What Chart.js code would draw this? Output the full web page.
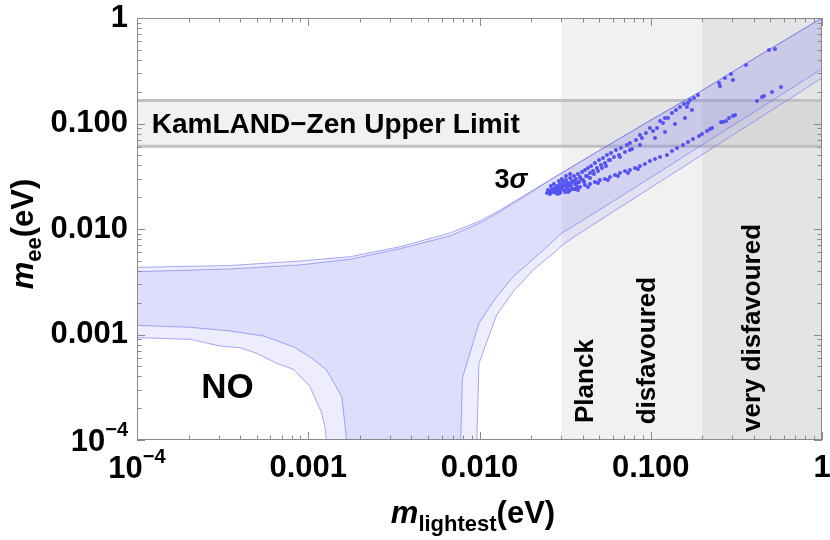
<!DOCTYPE html>
<html>
<head>
<meta charset="utf-8">
<script src="https://cdn.jsdelivr.net/npm/chart.js@4.4.1/dist/chart.umd.min.js"></script>
<style>
  html, body { margin: 0; padding: 0; background: #fff; }
  canvas { display: block; }
</style>
</head>
<body>
<canvas id="chart" width="830" height="540"></canvas>
<script>
// axis ticks (both axes are log, 1e-4 .. 1 eV); "^" marks a power label
const tickValues = [1e-4, 1e-3, 1e-2, 1e-1, 1];
const tickLabels = ['10^−4', '0.001', '0.010', '0.100', '1'];
const minorSteps = [2, 3, 4, 5, 6, 7, 8, 9];

// limits
const planckLimits = [0.03, 0.2];      // m_lightest: disfavoured / very disfavoured
const kamlandLimits = [0.061, 0.165];  // m_ee upper limit band

// NO allowed region, outer (light) contour: [m_lightest, m_ee]
const outerUpper = [[8e-5, 0.00433], [1e-4, 0.00433], [3.49e-4, 0.00451], [8.95e-4, 0.00497], [1.75e-3, 0.00546],
  [3.44e-3, 0.00679], [6.73e-3, 0.00917], [0.01007, 0.01191], [0.0132, 0.01514], [0.0197, 0.02243], [0.0269, 0.0304],
  [0.0506, 0.0561], [0.0991, 0.1067], [0.195, 0.2011], [0.435, 0.446], [1, 1], [1.2, 1.2]];
const outerLowerRight = [[1.2, 0.33], [1, 0.270], [0.0386, 0.00916], [0.0316, 0.00737], [0.0258, 0.00555],
  [0.0206, 0.00409], [0.01574, 0.00255], [0.01259, 0.00153], [0.00993, 5.33e-4], [0.00964, 9.6e-5], [0.0096, 5e-5]];
const outerLowerLeft = [[0.00128, 5e-5], [0.00128, 9.6e-5], [0.00125, 1.34e-4], [0.00120, 1.79e-4], [0.00102, 3.25e-4],
  [8.18e-4, 4.68e-4], [6.55e-4, 5.33e-4], [5.0e-4, 6.64e-4], [3.99e-4, 7.5e-4], [3.05e-4, 7.78e-4],
  [2.04e-4, 9.0e-4], [1e-4, 9.33e-4], [8e-5, 9.33e-4]];

// NO allowed region, inner (dark) contour
const innerUpper = [[8e-5, 0.00394], [1e-4, 0.00394], [3.49e-4, 0.00418], [8.95e-4, 0.00456], [1.75e-3, 0.00516],
  [3.44e-3, 0.00651], [6.73e-3, 0.00859], [0.01007, 0.0114], [0.0132, 0.01465], [0.0197, 0.0219], [0.0269, 0.0304],
  [0.0506, 0.0561], [0.0991, 0.1067], [0.195, 0.2011], [0.435, 0.446], [1, 1], [1.2, 1.2]];
const innerLowerRight = [[1.2, 0.395], [1, 0.329], [0.0661, 0.0201], [0.0386, 0.01165], [0.0303, 0.00916],
  [0.0236, 0.00632], [0.01574, 0.00353], [0.01259, 0.00228], [0.00993, 0.00128], [0.00794, 3.85e-4], [0.00769, 5e-5]];
const innerLowerLeft = [[0.0017, 5e-5], [0.00168, 9.6e-5], [0.00157, 2.57e-4], [0.00128, 4.61e-4], [0.00102, 6.16e-4],
  [8.18e-4, 7.66e-4], [5.47e-4, 9.68e-4], [3.49e-4, 1.08e-3], [2.04e-4, 1.17e-3], [1e-4, 1.22e-3], [8e-5, 1.22e-3]];

// scan points
const upperBranch = [[0.0248, 0.0219], [0.0255, 0.0229], [0.0258, 0.0215], [0.0265, 0.0239], [0.0269, 0.0224],
  [0.0276, 0.0245], [0.0280, 0.0219], [0.0284, 0.0256], [0.0287, 0.0234], [0.0295, 0.0267], [0.0295, 0.0224],
  [0.0303, 0.0250], [0.0307, 0.0279], [0.0312, 0.0234], [0.0316, 0.0261], [0.0320, 0.0291], [0.0324, 0.0245],
  [0.0329, 0.0273], [0.0333, 0.0229], [0.0338, 0.0304], [0.0342, 0.0256], [0.0347, 0.0285], [0.0352, 0.0239],
  [0.0356, 0.0318], [0.0361, 0.0267], [0.0366, 0.0298], [0.0371, 0.0250], [0.0376, 0.0332], [0.0381, 0.0279],
  [0.0386, 0.0311], [0.0397, 0.0347], [0.0402, 0.0291], [0.0413, 0.0362], [0.0419, 0.0318], [0.0430, 0.0379],
  [0.0442, 0.0340], [0.0448, 0.0396], [0.0460, 0.0355], [0.0472, 0.0422], [0.0485, 0.0379], [0.0499, 0.0451],
  [0.0512, 0.0404], [0.0526, 0.0471], [0.0540, 0.0422], [0.0555, 0.0503], [0.0570, 0.0451], [0.0586, 0.0525],
  [0.0610, 0.0481], [0.0626, 0.0561], [0.0652, 0.0503], [0.0670, 0.0586], [0.0707, 0.0537], [0.0726, 0.0625],
  [0.0756, 0.0653], [0.0777, 0.0573], [0.0820, 0.0698], [0.0865, 0.0778], [0.0888, 0.0729], [0.0937, 0.0813],
  [0.0989, 0.0906], [0.1032, 0.0849], [0.1088, 0.0906], [0.1133, 0.1056], [0.1179, 0.1011], [0.1211, 0.1127],
  [0.1261, 0.1127], [0.1330, 0.1257], [0.1404, 0.1343], [0.1481, 0.1433], [0.1564, 0.1530], [0.1628, 0.1433],
  [0.1650, 0.1564], [0.1696, 0.1670], [0.1789, 0.1745], [0.1887, 0.1863], [0.2503, 0.2420], [0.2537, 0.2267],
  [0.2714, 0.2699], [0.2942, 0.2945], [0.3021, 0.2584], [0.3599, 0.3584], [0.4904, 0.4972], [0.5314, 0.5083],
  [0.0261, 0.0256], [0.0272, 0.0267], [0.0291, 0.0285], [0.0303, 0.0298], [0.0320, 0.0318], [0.0338, 0.0332],
  [0.0251, 0.0234], [0.0262, 0.0224], [0.0272, 0.0234], [0.0284, 0.0229], [0.0291, 0.0245], [0.0299, 0.0234],
  [0.0307, 0.0256], [0.0320, 0.0267], [0.0329, 0.0256], [0.0342, 0.0273], [0.0356, 0.0285], [0.0371, 0.0273],
  [0.0391, 0.0298], [0.0408, 0.0279], [0.0424, 0.0318], [0.0442, 0.0304], [0.0466, 0.0332], [0.0492, 0.0355],
  [0.0519, 0.0379], [0.0548, 0.0396], [0.0578, 0.0451], [0.0661, 0.0481], [0.0756, 0.0561], [0.0865, 0.0625],
  [0.1059, 0.0729], [0.1211, 0.0831], [0.1385, 0.0989], [0.1585, 0.1127], [0.1741, 0.1343]];
const lowerBranch = [[0.0276, 0.0224], [0.0295, 0.0219], [0.0316, 0.0224], [0.0338, 0.0234], [0.0361, 0.0239],
  [0.0386, 0.0250], [0.0413, 0.0261], [0.0442, 0.0267], [0.0472, 0.0279], [0.0505, 0.0291], [0.0540, 0.0298],
  [0.0578, 0.0311], [0.0618, 0.0325], [0.0661, 0.0340], [0.0707, 0.0355], [0.0756, 0.0362], [0.0809, 0.0379],
  [0.0865, 0.0396], [0.0925, 0.0413], [0.0989, 0.0441], [0.1059, 0.0461], [0.1133, 0.0481], [0.1244, 0.0503],
  [0.1330, 0.0549], [0.1423, 0.0586], [0.1543, 0.0625], [0.1650, 0.0668], [0.1765, 0.0713], [0.1913, 0.0761],
  [0.1991, 0.0795], [0.2130, 0.0849], [0.2218, 0.0887], [0.2280, 0.0906], [0.2571, 0.1033], [0.2641, 0.1033],
  [0.2751, 0.1056], [0.2863, 0.1127], [0.3021, 0.1178], [0.3105, 0.1204], [0.4173, 0.1634], [0.4464, 0.1783],
  [0.4585, 0.1823], [0.5105, 0.1989], [0.5762, 0.2218],
  [0.0287, 0.0215], [0.0329, 0.0224], [0.0376, 0.0234], [0.0430, 0.0250], [0.0492, 0.0273], [0.0562, 0.0291],
  [0.0643, 0.0318], [0.0736, 0.0340], [0.0842, 0.0370]];

const FONT = "'Liberation Sans', Arial, Helvetica, sans-serif";
const BLUE_FILL = 'rgba(115, 115, 240, 0.13)';
const BLUE_LINE = 'rgba(110, 110, 240, 0.75)';
const GRAY_FILL = 'rgba(0, 0, 0, 0.055)';
const GRAY_LINE = '#c0c0c0';

// rectangles that run off the plot on the outer sides
const far = { lo: 1e-5, hi: 10 };
const planckShape = [[planckLimits[0], far.hi], [1.5, far.hi], [1.5, far.lo], [planckLimits[0], far.lo]];
const veryShape = [[planckLimits[1], far.hi], [1.5, far.hi], [1.5, far.lo], [planckLimits[1], far.lo]];
const kamlandShape = [[5e-5, kamlandLimits[1]], [1.5, kamlandLimits[1]], [1.5, kamlandLimits[0]], [5e-5, kamlandLimits[0]]];

function region(points, fillColor, lineColor, lineWidth) {
  return {
    data: points,
    fill: 'shape',
    backgroundColor: fillColor,
    borderColor: lineColor,
    borderWidth: lineWidth,
    pointRadius: 0
  };
}

function scatter(points) {
  return {
    data: points,
    showLine: false,
    pointRadius: 2,
    pointBorderWidth: 0,
    pointBackgroundColor: '#5252f4'
  };
}

function labelFor(value) {
  const i = tickValues.findIndex(v => Math.abs(Math.log10(v) - Math.log10(value)) < 1e-6);
  return i >= 0 ? tickLabels[i] : '';
}

function axis(isX) {
  return {
    type: 'logarithmic',
    min: 1e-4,
    max: 1,
    afterBuildTicks(s) { s.ticks = tickValues.map(v => ({ value: v })); },
    afterFit(s) {
      if (isX) { s.height = 100; s.paddingLeft = 0; s.paddingRight = 0; }
      else { s.width = 137; s.paddingTop = 0; s.paddingBottom = 0; }
    },
    grid: { display: false, drawTicks: false },
    border: { display: false },
    ticks: {
      autoSkip: false,
      maxRotation: 0,
      padding: isX ? 10 : 9,
      color: '#000',
      font: { family: FONT, size: 31, weight: 'bold', lineHeight: 1.2 },
      // power labels are drawn by the labels plugin (base + raised exponent)
      callback: v => (labelFor(v).includes('^') ? '' : labelFor(v))
    }
  };
}

// frame with inward ticks on all four sides
const frameTicks = {
  id: 'frameTicks',
  afterDatasetsDraw(chart) {
    const { ctx, chartArea: a, scales: { x, y } } = chart;
    ctx.save();
    ctx.strokeStyle = '#8a8a8a';
    ctx.lineWidth = 1;
    ctx.beginPath();
    tickValues.forEach(dec => {
      [1, ...minorSteps].forEach(s => {
        const v = dec * s;
        if (v > 1.0001) return;
        const len = s === 1 ? 8 : 4.5;
        const px = Math.round(x.getPixelForValue(v)) + 0.5;
        ctx.moveTo(px, a.bottom); ctx.lineTo(px, a.bottom - len);
        ctx.moveTo(px, a.top); ctx.lineTo(px, a.top + len);
        const py = Math.round(y.getPixelForValue(v)) + 0.5;
        ctx.moveTo(a.left, py); ctx.lineTo(a.left + len, py);
        ctx.moveTo(a.right, py); ctx.lineTo(a.right - len, py);
      });
    });
    ctx.stroke();
    ctx.strokeRect(a.left + 0.5, a.top + 0.5, a.right - a.left - 1, a.bottom - a.top - 1);
    ctx.restore();
  }
};

// draw a run of text pieces with their own fonts and baseline shifts
function drawRich(ctx, parts, x, y, align) {
  let total = 0;
  parts.forEach(p => { ctx.font = p.font; p.w = ctx.measureText(p.t).width; total += p.w; });
  let cx = x;
  if (align === 'center') cx = x - total / 2;
  if (align === 'right') cx = x - total;
  ctx.textAlign = 'left';
  ctx.textBaseline = 'alphabetic';
  parts.forEach(p => { ctx.font = p.font; ctx.fillText(p.t, cx, y + (p.dy || 0)); cx += p.w; });
}

const labels = {
  id: 'labels',
  afterDraw(chart) {
    const { ctx, scales: { x, y } } = chart;
    const bold = s => 'bold ' + s + 'px ' + FONT;
    const italic = s => 'italic bold ' + s + 'px ' + FONT;
    ctx.save();
    ctx.fillStyle = '#000';

    // power tick labels
    tickValues.forEach(v => {
      const lab = labelFor(v);
      if (!lab.includes('^')) return;
      const [base, exp] = lab.split('^');
      const parts = () => [{ t: base, font: bold(31) }, { t: exp, font: bold(20), dy: -15 }];
      drawRich(ctx, parts(), x.getPixelForValue(v), 478, 'center');
      drawRich(ctx, parts(), chart.chartArea.left - 9, y.getPixelForValue(v) + 11, 'right');
    });

    drawRich(ctx, [{ t: 'KamLAND−Zen Upper Limit', font: bold(28) }], x.getPixelForValue(1.22e-4), y.getPixelForValue(0.0813));
    drawRich(ctx, [{ t: 'NO', font: bold(35) }], x.getPixelForValue(3.38e-4), y.getPixelForValue(2.48e-4), 'center');
    drawRich(ctx, [{ t: '3', font: bold(27) }, { t: 'σ', font: italic(27) }], x.getPixelForValue(0.01528), y.getPixelForValue(0.0245), 'center');

    const vertical = [['Planck', 0.0461, 1.45e-4], ['disfavoured', 0.106, 1.41e-4], ['very disfavoured', 0.435, 1.19e-4]];
    vertical.forEach(([t, vx, vy]) => {
      ctx.save();
      ctx.translate(x.getPixelForValue(vx), y.getPixelForValue(vy));
      ctx.rotate(-Math.PI / 2);
      drawRich(ctx, [{ t, font: bold(26) }], 0, 0);
      ctx.restore();
    });

    // axis titles
    drawRich(ctx, [{ t: 'm', font: italic(31) }, { t: 'lightest', font: bold(22), dy: 8 }, { t: '(eV)', font: bold(31) }], 473, 523, 'center');
    ctx.save();
    ctx.translate(33, 234);
    ctx.rotate(-Math.PI / 2);
    drawRich(ctx, [{ t: 'm', font: italic(31) }, { t: 'ee', font: bold(22), dy: 8 }, { t: '(eV)', font: bold(31) }], 0, 0, 'center');
    ctx.restore();
    ctx.restore();
  }
};

new Chart(document.getElementById('chart'), {
  type: 'line',
  data: {
    datasets: [
      scatter(upperBranch),
      scatter(lowerBranch),
      region([...innerUpper, ...innerLowerRight, ...innerLowerLeft], BLUE_FILL, BLUE_LINE, 0.8),
      region([...outerUpper, ...outerLowerRight, ...outerLowerLeft], BLUE_FILL, BLUE_LINE, 0.8),
      region(kamlandShape, GRAY_FILL, GRAY_LINE, 3),
      region(veryShape, GRAY_FILL, GRAY_LINE, 3),
      region(planckShape, GRAY_FILL, GRAY_LINE, 3)
    ]
  },
  options: {
    responsive: false,
    animation: false,
    events: [],
    layout: { padding: { top: 18, right: 8, left: 0, bottom: 0 } },
    plugins: { legend: { display: false }, tooltip: { enabled: false } },
    scales: { x: axis(true), y: axis(false) }
  },
  plugins: [frameTicks, labels]
});
</script>
</body>
</html>
